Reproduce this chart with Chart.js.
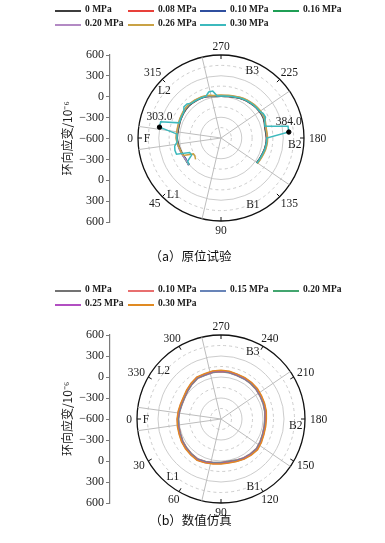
<!DOCTYPE html>
<html><head><meta charset="utf-8">
<script src="https://cdn.jsdelivr.net/npm/chart.js@4/dist/chart.umd.min.js"></script>
<style>
body{margin:0;width:385px;height:543px;background:#fff;position:relative;overflow:hidden;}
canvas{position:absolute;left:0;}
.item{position:absolute;height:0;white-space:nowrap;}
.item i{position:absolute;left:0;top:-0.9px;width:26px;height:1.8px;}
.item span{position:absolute;left:30px;top:-7px;line-height:14px;font:bold 9.5px 'Liberation Serif',serif;color:#1a1a1a;}
.caption{position:absolute;left:0;width:385px;text-align:center;font:12.5px 'Noto Sans CJK SC';color:#111;line-height:16px;}
</style></head><body>
<canvas id="ca" width="385" height="250" style="top:0"></canvas>
<canvas id="cb" width="385" height="250" style="top:270px"></canvas>
<div class="caption" style="top:248px;left:-2px">（a）原位试验</div>
<div class="caption" style="top:512px;left:-2px">（b）数值仿真</div>
<script>
const _ = null;
// ---------- panel (a) ----------
const anglesA = [0,355,350,345,340,335,330,325,320,315,310,305,300,295,290,285,280,275,270,265,260,255,250,245,240,235,230,225,220,215,210,205,200,195,190,185,180,175,170,165,160,155,150,145,140,135,130,125,120,115,110,105,100,95,90,85,80,75,70,65,60,55,50,45,40,35,30,25,20,15,10,5];
const seriesNamesA = ['0 MPa','0.08 MPa','0.10 MPa','0.16 MPa','0.20 MPa','0.26 MPa','0.30 MPa'];
const p000A = [32,30,28,30,34,40,44,50,54,56,52,48,44,40,34,20,8,4,2,4,8,14,22,34,42,50,56,64,70,74,77,76,66,54,50,52,56,56,52,48,40,34,30,26,_,_,_,_,_,_,_,_,_,_,_,_,_,_,_,_,_,_,_,_,0,-4,-6,-2,4,12,20,27];
const p008A = [36,34,32,34,38,44,48,54,58,60,56,52,48,44,38,24,12,8,6,8,12,18,26,38,46,54,60,68,74,78,81,80,70,58,54,56,60,60,56,52,44,38,34,30,_,_,_,_,_,_,_,_,_,_,_,_,_,_,_,_,_,_,_,_,4,0,-2,2,8,16,24,31];
const p010A = [38,36,34,36,40,46,50,56,60,62,58,54,50,46,40,26,13,10,8,10,14,20,28,40,48,56,62,70,76,80,83,82,72,60,56,58,62,62,58,54,46,40,36,32,_,_,_,_,_,_,_,_,_,_,_,_,_,_,_,_,_,_,_,_,10,-4,-8,4,10,18,26,33];
const p016A = [40,38,36,38,42,48,52,58,62,64,60,56,52,48,42,28,15,12,10,12,16,22,30,42,50,58,64,72,78,82,85,84,74,62,58,60,64,64,60,56,48,42,38,34,_,_,_,_,_,_,_,_,_,_,_,_,_,_,_,_,_,_,_,_,8,4,2,6,12,20,28,35];
const p020A = [46,44,42,44,48,54,58,64,68,70,66,62,58,54,48,34,20,18,16,18,22,28,36,48,56,64,70,78,84,88,91,90,80,68,64,66,70,70,66,62,54,48,44,40,_,_,_,_,_,_,_,_,_,_,_,_,_,_,_,_,_,_,_,_,12,-2,0,8,16,24,32,40];
const p026A = [50,48,46,48,52,58,62,68,72,74,70,66,62,58,52,38,24,22,20,22,26,32,40,52,60,68,74,82,88,92,95,94,84,72,68,70,74,74,70,66,58,52,48,44,_,_,_,_,_,_,_,_,_,_,_,_,_,_,_,_,_,_,_,_,-120,-140,-140,0,10,15,30,42];
const p030A = [38,36,303,303,40,46,50,56,100,95,58,54,50,46,40,88,88,10,8,10,14,20,28,40,48,56,62,70,76,80,105,110,72,60,384,384,62,62,58,54,46,40,36,32,_,_,_,_,_,_,_,_,_,_,_,_,_,_,_,_,_,_,_,_,0,-10,-110,-100,85,90,80,36];
const peakAnglesA = [350,185];
const peakValuesA = [303,384];
const peakTextA = ['303.0','384.0'];
const colorsA = ['#3d3d3d','#e8403a','#2f4f9f','#1f9e55','#b38ac4','#c9a245','#3cb9bd'];
// ---------- panel (b) ----------
const anglesB = [0,350,340,330,320,310,300,290,280,270,260,250,240,230,220,210,200,190,180,170,160,150,140,130,120,110,100,90,80,70,60,50,40,30,20,10];
const seriesNamesB = ['0 MPa','0.10 MPa','0.15 MPa','0.20 MPa','0.25 MPa','0.30 MPa'];
const p000B = [8,0,-6,0,20,44,70,66,74,74,70,61,60,59,54,46,40,34,26,25,31,45,59,50,41,25,14,20,31,45,60,51,40,29,15,11];
const p010B = [11,5,-1,3,24,49,73,70,79,77,74,64,65,63,58,49,44,39,30,29,34,48,64,55,44,29,19,24,34,49,63,54,44,34,19,14];
const p015B = [15,8,2,8,28,53,78,72,82,83,78,68,67,68,62,53,47,43,34,34,38,53,67,58,48,33,23,28,38,52,68,58,48,38,24,18];
const p020B = [19,12,7,11,32,56,82,77,87,86,82,72,72,71,67,57,52,47,38,37,42,56,72,62,52,37,27,32,42,57,72,62,52,42,27,22];
const p025B = [23,16,12,16,36,61,86,81,90,90,86,76,75,76,71,61,56,51,42,41,46,61,76,66,56,41,31,36,46,61,76,66,56,46,31,26];
const p030B = [28,22,17,21,42,66,92,87,97,96,92,82,82,81,77,67,62,57,48,47,52,67,82,72,62,47,37,42,52,67,82,72,62,52,37,32];
const colorsB = ['#737373','#e86f6f','#6884b8','#43a56f','#b24fc2','#e08a22'];
// ---------- shared axes text ----------
const radialTickLabels = ['600','300','0','\u2212300','\u2212600','\u2212300','0','300','600'];
const angleTicksA = [0,45,90,135,180,225,270,315];
const angleTicksB = [0,30,60,90,120,150,180,210,240,270,300,330];
const segmentNames = ['F','L1','B1','B2','B3','L2'];
const segmentLabelAngles = [0,50,115.5,175,245,320];
const jointAngles = [352,8,76.8,145.6,214.4,283.2];
const yTitle = '环向应变/10\u207B\u2076';

function idxOf(theta, n){ return ((360 - theta) % 360) / (360 / n); }

const decor = {
  id:'decor',
  beforeDatasetsDraw(chart,a,o){
    const s=chart.scales.r, ctx=chart.ctx, n=chart.data.labels.length;
    ctx.save(); ctx.strokeStyle='#bdbdbd'; ctx.lineWidth=1;
    for(const th of o.joints){
      const p=s.getPointPositionForValue(idxOf(th,n), s.max);
      ctx.beginPath(); ctx.moveTo(s.xCenter,s.yCenter); ctx.lineTo(p.x,p.y); ctx.stroke();
    }
    ctx.restore();
  },
  afterDatasetsDraw(chart,a,o){
    const s=chart.scales.r, ctx=chart.ctx, n=chart.data.labels.length, R=s.drawingArea;
    ctx.save();
    ctx.strokeStyle='#111'; ctx.lineWidth=1;
    ctx.font="11.5px 'Liberation Serif'"; ctx.fillStyle='#1a1a1a';
    ctx.textAlign='center'; ctx.textBaseline='middle';
    for(const th of o.ticks){
      const k=idxOf(th,n);
      const p1=s.getPointPosition(k,R), p2=s.getPointPosition(k,R-4);
      ctx.beginPath(); ctx.moveTo(p1.x,p1.y); ctx.lineTo(p2.x,p2.y); ctx.stroke();
      const p=s.getPointPosition(k,R+5);
      const ux=(p.x-s.xCenter)/(R+5), uy=(p.y-s.yCenter)/(R+5);
      const t=String(th), w=ctx.measureText(t).width, h=8;
      ctx.fillText(t, p.x+ux*w/2, p.y+uy*h/2+0.5);
    }
    for(let j=0;j<segmentNames.length;j++){
      const p=s.getPointPosition(idxOf(segmentLabelAngles[j],n), R-9);
      ctx.fillText(segmentNames[j], p.x, p.y+0.5);
    }
    if(o.peaks){
      for(let j=0;j<o.peaks.angles.length;j++){
        const p=s.getPointPositionForValue(idxOf(o.peaks.angles[j],n), o.peaks.values[j]);
        ctx.fillText(o.peaks.text[j], p.x, p.y-10);
      }
    }
    ctx.restore();
  }
};

function makeChart(id, labels, series, names, colors, angleTicks, pad, peaks){
  const datasets = series.map((d,i)=>({label:names[i], data:d, borderColor:colors[i], backgroundColor:colors[i],
    borderWidth:1.5, pointRadius:0, fill:false, tension:0, spanGaps:false, order:-i}));
  if(peaks){
    const dots = labels.map(t => { const j=peaks.angles.indexOf(t); return j>=0 ? peaks.values[j] : null; });
    datasets.push({label:'peak', data:dots, showLine:false, pointRadius:2.2, pointBackgroundColor:'#000',
      pointBorderColor:'#000', borderColor:'#000', fill:false, order:-100});
  }
  return new Chart(document.getElementById(id), {
    type:'radar',
    data:{labels, datasets},
    plugins:[decor],
    options:{
      responsive:false, animation:false, events:[],
      layout:{padding:pad},
      plugins:{legend:{display:false}, tooltip:{enabled:false}, decor:{joints:jointAngles, ticks:angleTicks, peaks}},
      scales:{
        r:{min:-600, max:600, startAngle:270,
          ticks:{display:false, stepSize:150},
          pointLabels:{display:false},
          angleLines:{display:false},
          grid:{circular:true,
            color:c=> (c.tick && c.tick.value===600) ? '#111' : '#c6c6c6',
            lineWidth:c=> (c.tick && c.tick.value===600) ? 1.3 : 0.9},
          border:{dash:c=> (c.tick && Math.abs(c.tick.value)%300===150) ? [3,3] : []}
        },
        y:{type:'linear', position:'left', min:-1200, max:1200,
          afterFit(sc){ sc.width=50; },
          ticks:{stepSize:300, autoSkip:false, padding:2, color:'#1a1a1a',
            font:{family:"'Liberation Serif'", size:12},
            callback:(v,i)=>radialTickLabels[i]},
          grid:{drawOnChartArea:false, drawTicks:true, tickLength:4, color:'#7a7a7a', lineWidth:1},
          border:{color:'#7a7a7a', width:1.2},
          title:{display:true, text:yTitle, color:'#1a1a1a', padding:{top:0,bottom:0},
            font:{family:"'Noto Sans CJK SC','Liberation Serif'", size:12}}
        }
      }
    }
  });
}

function buildLegend(rowTops, names, colors){
  const cols=[55,128,200,273];
  names.forEach((nm,i)=>{
    const r=Math.floor(i/4), c=i%4;
    const d=document.createElement('div'); d.className='item';
    d.style.left=cols[c]+'px'; d.style.top=rowTops[r]+'px';
    d.innerHTML='<i style="background:'+colors[i]+'"></i><span>'+nm+'</span>';
    document.body.appendChild(d);
  });
}

buildLegend([11.2,24.8], seriesNamesA, colorsA);
buildLegend([291.2,304.8], seriesNamesB, colorsB);

makeChart('ca', anglesA, [p000A,p008A,p010A,p016A,p020A,p026A,p030A], seriesNamesA, colorsA, angleTicksA,
  {left:60,right:53,top:55,bottom:28}, {angles:peakAnglesA, values:peakValuesA, text:peakTextA});
makeChart('cb', anglesB, [p000B,p010B,p015B,p020B,p025B,p030B], seriesNamesB, colorsB, angleTicksB,
  {left:60,right:53,top:65,bottom:17}, null);
</script>
</body></html>
